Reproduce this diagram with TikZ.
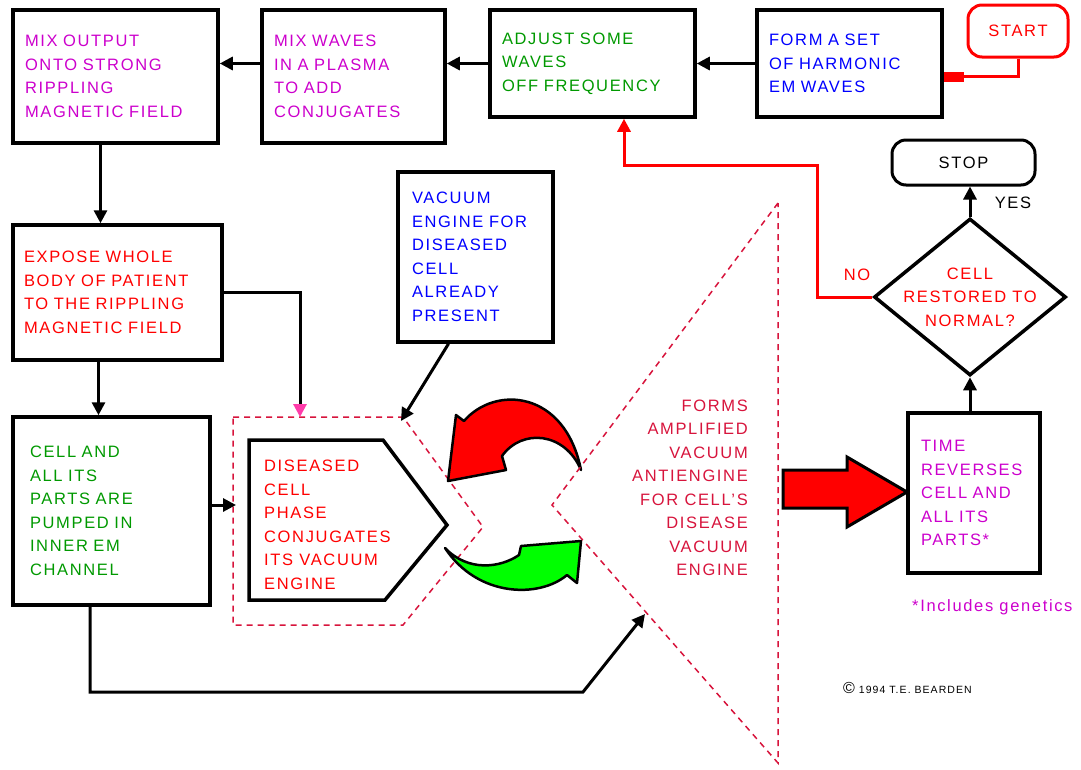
\documentclass[tikz,border=0pt]{standalone}
\usepackage{xcolor}
\usepackage{fontspec}
\setmainfont{Liberation Sans}[LetterSpace=10]
\usepackage{tikz}
\usetikzlibrary{arrows.meta}
\usetikzlibrary{shapes.geometric}
\definecolor{FlowMagenta}{RGB}{204,0,204}
\definecolor{FlowGreen}{RGB}{0,153,0}
\definecolor{FlowBlue}{RGB}{0,0,255}
\definecolor{FlowRed}{RGB}{255,0,0}
\definecolor{FlowCrimson}{RGB}{215,20,60}
\definecolor{FlowPink}{RGB}{255,60,170}
\definecolor{FlowLime}{RGB}{0,255,0}
\newcommand{\flowfont}{\fontsize{16.5}{23.5}\selectfont}

\begin{document}
\begin{tikzpicture}[x=1pt,y=-1pt,
    flowbox/.style={draw, line width=3.5pt, align=left, inner xsep=12pt, font=\flowfont},
    flowtext/.style={inner sep=0pt, font=\flowfont},
    terminal/.style={draw, line width=3pt, rounded corners=14pt, font=\flowfont},
    flowarrow/.style={line width=3pt, -{Triangle[length=13pt,width=13pt]}},
    redarrow/.style={draw=FlowRed, line width=3pt, -{Triangle[length=13pt,width=13pt,color=FlowRed]}},
    zone/.style={draw=FlowCrimson, line width=1.5pt, dash pattern=on 6pt off 5pt},
    bent/.style={draw=black, line width=2.5pt, line join=round}]
  \useasboundingbox (0,0) rectangle (1081,769);

  % ----- TOP ROW -----
  \node[flowbox, text width=181pt, minimum height=133pt, text=FlowMagenta] (mixout) at (115.5,76.5)
    {MIX OUTPUT\\ONTO STRONG\\RIPPLING\\MAGNETIC FIELD};
  \node[flowbox, text width=159pt, minimum height=133pt, text=FlowMagenta] (mixwaves) at (353.5,76.5)
    {MIX WAVES\\IN A PLASMA\\TO ADD\\CONJUGATES};
  \node[flowbox, text width=181pt, minimum height=107pt, text=FlowGreen] (adjust) at (592.5,63.5)
    {ADJUST SOME\\WAVES\\OFF FREQUENCY};
  \node[flowbox, text width=161pt, minimum height=107pt, text=FlowBlue] (formset) at (849.5,63.5)
    {FORM A SET\\OF HARMONIC\\EM WAVES};
  \node[terminal, draw=FlowRed, text=FlowRed, minimum width=100pt, minimum height=52pt] (start) at (1018,31) {START};

  % ----- LEFT COLUMN -----
  \node[flowbox, inner xsep=11pt, text width=187pt, minimum height=135pt, text=FlowRed] (expose) at (117.5,292.5)
    {EXPOSE WHOLE\\BODY OF PATIENT\\TO THE RIPPLING\\MAGNETIC FIELD};
  \node[flowbox, inner xsep=17pt, text width=163pt, minimum height=188pt, text=FlowGreen] (pumped) at (111.5,511)
    {CELL AND\\ALL ITS\\PARTS ARE\\PUMPED IN\\INNER EM\\CHANNEL};
  \node[flowbox, inner xsep=14pt, text width=127pt, minimum height=170pt, text=FlowBlue] (vacengine) at (475.5,257)
    {VACUUM\\ENGINE FOR\\DISEASED\\CELL\\ALREADY\\PRESENT};

  % ----- PHASE CONJUGATION ZONE -----
  \coordinate (enctop) at (300,417);
  \coordinate (encne) at (401,421);
  \coordinate (encw) at (236,505);
  \draw[zone] (233,417) -- (403,417) -- (483,527) -- (403,625) -- (233,625) -- cycle;
  \draw[line width=3.5pt, line join=miter] (249,440) -- (383,440) -- (447,525) -- (385,600) -- (249,600) -- cycle;
  \node[flowtext, align=left, text=FlowRed, anchor=west] (conjug) at (264,525)
    {DISEASED\\CELL\\PHASE\\CONJUGATES\\ITS VACUUM\\ENGINE};

  % curved arrows
  \draw[bent, fill=FlowRed] (448,481) -- (456,415) -- (464,421)
    .. controls (495,385) and (565,390) .. (581,470)
    .. controls (565,432) and (522,428) .. (502,456) -- (506,470) -- cycle;
  \draw[bent, fill=FlowLime] (445,548) .. controls (468,572) and (500,568) .. (519,555)
    -- (521,546) -- (581,541) -- (577,583) -- (567,575)
    .. controls (540,598) and (478,598) .. cycle;

  % antiengine wedge
  \draw[zone] (778,203) -- (552,505) -- (778,763) -- cycle;
  \node[flowtext, align=right, text=FlowCrimson, anchor=east] (antieng) at (748,488)
    {FORMS\\AMPLIFIED\\VACUUM\\ANTIENGINE\\FOR CELL'S\\DISEASE\\VACUUM\\ENGINE};
  \coordinate (antitip) at (645,614);
  \coordinate (kink) at (583,692);

  % ----- RIGHT COLUMN -----
  \node[terminal, minimum width=143pt, minimum height=45pt] (stop) at (963.5,162.5) {STOP};
  \node[draw, diamond, line width=3.5pt, minimum width=192pt, minimum height=157pt, inner sep=0pt] (restored) at (970,297) {};
  \node[flowtext, align=center, text=FlowRed] (restoredtxt) at (restored.center) {CELL\\RESTORED TO\\NORMAL?};
  \node[flowbox, inner xsep=13pt, text width=106pt, minimum height=160pt, text=FlowMagenta] (timerev) at (974,493)
    {TIME\\REVERSES\\CELL AND\\ALL ITS\\PARTS*};
  \node[flowtext] (yes) at (1013,203) {YES};
  \node[flowtext, text=FlowRed] (no) at (857,275) {NO};
  \node[flowtext, anchor=west, text=FlowMagenta] (genetics) at (912,607) {*Includes genetics};
  \node[anchor=west, inner sep=0pt, font=\fontsize{10.5}{12}\selectfont] (copyr) at (843,688)
    {{\fontsize{16}{16}\selectfont\textcopyright}\ 1994 T.E. BEARDEN};
  \coordinate (fbturn) at (817,165);

  % big red arrow
  \draw[line width=3pt, fill=FlowRed, line join=miter]
    (783,470) -- (847,470) -- (847,457) -- (907,492) -- (847,527) -- (847,508) -- (783,508) -- cycle;

  % ----- CONNECTORS -----
  \draw[flowarrow] (formset.west) -- (adjust.east);
  \draw[flowarrow] (adjust.west) -- (adjust.west -| mixwaves.east);
  \draw[flowarrow] (mixwaves.west |- adjust.west) -- (adjust.west -| mixout.east);
  \draw[FlowRed, line width=3pt, -{Rectangle[length=20pt,width=10pt]}] (start.south) |- ([yshift=-13pt]formset.east);
  \draw[flowarrow] ([xshift=-15pt]mixout.south) -- ([xshift=-15pt]mixout.south |- expose.north);
  \draw[flowarrow] ([xshift=-19pt]expose.south) -- ([xshift=-19pt]expose.south |- pumped.north);
  \draw[line width=3pt, -{Triangle[length=13pt,width=13pt,color=FlowPink]}] (expose.east) -| (enctop);
  \draw[flowarrow] ([xshift=-27pt]vacengine.south) -- (encne);
  \draw[flowarrow] (pumped.east |- encw) -- (encw);
  \draw[flowarrow] ([xshift=-21.5pt]pumped.south) |- (kink) -- (antitip);
  \draw[flowarrow] (restored.north) -- (restored.north |- stop.south);
  \draw[flowarrow] (timerev.north -| restored.south) -- (restored.south);
  \draw[redarrow] (restored.west) -| (fbturn) -| ([xshift=31.5pt]adjust.south);
\end{tikzpicture}
\end{document}
